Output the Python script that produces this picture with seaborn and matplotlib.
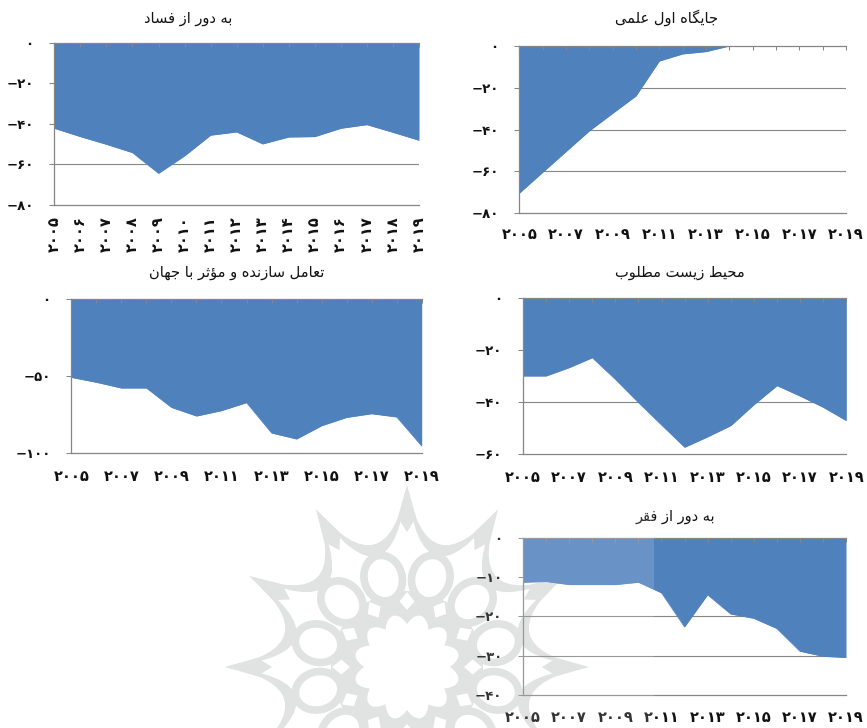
import unicodedata
import numpy as np
import pandas as pd
import matplotlib
matplotlib.use("Agg")
import matplotlib.pyplot as plt
from matplotlib.patches import Ellipse, PathPatch, Polygon, Circle, Rectangle
from matplotlib.path import Path
import seaborn as sns

years = list(range(2005, 2020))

title_fasad = "به دور از فساد"
title_elmi = "جایگاه اول علمی"
title_ta = "تعامل سازنده و مؤثر با جهان"
title_env = "محیط زیست مطلوب"
title_faqr = "به دور از فقر"

vals_fasad = [-42.2, -46.3, -50.1, -54.2, -64.4, -55.8, -45.6, -44.0, -49.9, -46.5, -46.3, -42.2, -40.4, -44.2, -48.1]
vals_elmi = [-70.4, -60.4, -50.5, -40.6, -32.2, -23.9, -7.2, -3.8, -2.7, 0, 0, 0, 0, 0, 0]
vals_ta = [-51.1, -54.3, -58.0, -58.0, -70.6, -76.2, -72.7, -67.5, -87.2, -91.1, -82.5, -77.1, -74.7, -76.8, -95.7]
vals_env = [-30.0, -30.0, -26.8, -23.0, -31.3, -40.2, -48.8, -57.3, -53.3, -49.0, -41.0, -33.7, -37.7, -42.0, -47.1]
vals_faqr = [-11.3, -11.1, -11.9, -11.9, -11.9, -11.3, -14.0, -22.7, -14.5, -19.4, -20.5, -23.1, -28.9, -30.2, -30.5]

ticks_fasad = [0, -20, -40, -60, -80]
ticks_elmi = [0, -20, -40, -60, -80]
ticks_ta = [0, -50, -100]
ticks_env = [0, -20, -40, -60]
ticks_faqr = [0, -10, -20, -30, -40]

BLUE = "#4F81BD"
GREY = "#868686"
WM = "#DCDDDD"
INK = "#111111"
W, H = 867, 728

# Contextual Arabic shaping (matplotlib draws glyphs without joining them)
FORMS = {}
for cp in list(range(0xFB50, 0xFE00)) + list(range(0xFE70, 0xFEFD)):
    d = unicodedata.decomposition(chr(cp)).split()
    if len(d) == 2 and d[0] in ("<isolated>", "<final>", "<initial>", "<medial>"):
        FORMS.setdefault(chr(int(d[1], 16)), {}).setdefault(d[0].strip("<>"), chr(cp))
RIGHT_ONLY = set("اآأؤدذرزژو")


def shape(s):
    out = []
    for i, c in enumerate(s):
        if c not in FORMS:
            out.append(c)
            continue
        prev = s[i - 1] if i else " "
        nxt = s[i + 1] if i + 1 < len(s) else " "
        jp = prev in FORMS and prev not in RIGHT_ONLY
        jn = nxt in FORMS and c not in RIGHT_ONLY
        form = "medial" if jp and jn else "final" if jp else "initial" if jn else "isolated"
        out.append(FORMS[c].get(form, c))
    return "".join(out[::-1])


FA = str.maketrans("0123456789", "۰۱۲۳۴۵۶۷۸۹")


def fa(n):
    return ("−" if n < 0 else "") + str(abs(n)).translate(FA)


sns.set_theme(style="white")
plt.rcParams["font.family"] = ["DejaVu Sans"]
fig = plt.figure(figsize=(W / 100, H / 100), dpi=100, facecolor="white")


def px_axes(l, t, r, b, **kw):
    return fig.add_axes([l / W, 1 - b / H, (r - l) / W, (b - t) / H], **kw)


# Watermark rosette, in pixel space behind the charts
bg = px_axes(0, 0, W, H, zorder=-1)
bg.set_xlim(0, W)
bg.set_ylim(H, 0)
bg.axis("off")
cx, cy = 407, 667


def polar(r, deg):
    a = np.radians(deg)
    return (cx + r * np.sin(a), cy - r * np.cos(a))


bg.add_patch(Circle((cx, cy), 76, fc=WM, ec="none"))
for k in range(12):
    a0 = 30 * k
    a1 = a0 + 30
    m = a0 + 15
    p0, p1 = polar(182, a0), polar(182, a1)
    co, ci = polar(78, m), polar(54, m)
    verts = [p0, co, p1, ci, p0]
    codes = [Path.MOVETO, Path.CURVE3, Path.CURVE3, Path.CURVE3, Path.CURVE3]
    bg.add_patch(PathPatch(Path(verts, codes), fc=WM, ec="none"))
    # solid tip and the rib running down to the lobes
    bg.add_patch(Polygon([polar(150, a0 - 3.5), polar(182, a0), polar(150, a0 + 3.5), polar(135, a0)], fc=WM, ec="none"))
for k in range(12):
    a0 = 30 * k
    m = a0 + 15
    bg.add_patch(Ellipse(polar(92, m), 38, 46, angle=m, fc="white", ec=WM, lw=5.5))
    bg.add_patch(Polygon([polar(75, a0), polar(66, a0 + 6.5), polar(57, a0), polar(66, a0 - 6.5)], fc="white", ec="none"))
th = np.radians(np.arange(0, 360, 1.0))
rr = 43 + 10 * np.abs(np.cos(6 * (th - np.radians(15))))
bg.add_patch(Polygon(np.c_[cx + rr * np.sin(th), cy - rr * np.cos(th)], fc="white", ec="none"))

panels = [
    (title_fasad, vals_fasad, ticks_fasad, (54.3, 42.7, 419, 205), (188, 18), 1, 90, 8),
    (title_elmi, vals_elmi, ticks_elmi, (519.3, 46, 846, 213.3), (667, 18), 2, 0, 10),
    (title_ta, vals_ta, ticks_ta, (71.3, 298.7, 421.7, 452.7), (237, 272), 2, 0, 12),
    (title_env, vals_env, ticks_env, (523, 297.7, 846.3, 454.3), (680, 272), 2, 0, 11),
    (title_faqr, vals_faqr, ticks_faqr, (523, 538, 846, 694.7), (675, 516), 2, 0, 11),
]

for title, vals, yt, box, tpos, step, rot, xpad in panels:
    ax = px_axes(*box)
    ax.patch.set_visible(False)
    df = pd.DataFrame({"year": years, "value": vals})
    for v in yt[1:-1]:
        ax.axhline(v, color=GREY, lw=0.8, zorder=1)
    ax.fill_between(df["year"], df["value"], 0, color=BLUE, lw=0, zorder=2)
    sns.lineplot(data=df, x="year", y="value", ax=ax, color=BLUE, lw=0.5, zorder=2.2)
    ax.set_xlim(years[0], years[-1])
    ax.set_ylim(yt[-1], 0)
    ax.set_xlabel("")
    ax.set_ylabel("")
    ax.set_xticks(years)
    ax.set_xticklabels([fa(y) if (y - years[0]) % step == 0 else "" for y in years],
                       rotation=rot, fontweight="bold", fontsize=10.5, color=INK, va="top", ha="center")
    ax.set_yticks(yt)
    ax.set_yticklabels([fa(v) for v in yt], fontsize=9.5, fontweight="bold", color=INK)
    ax.tick_params(axis="x", which="both", top=True, bottom=False, labeltop=False, labelbottom=True,
                   direction="in", length=3.2, width=0.75, color=GREY, pad=xpad)
    ax.tick_params(axis="y", which="both", left=True, direction="out", length=3.8, width=0.75, color=GREY, pad=11)
    ax.grid(False)
    ax.set_axisbelow(False)
    for sp in ("top", "left", "bottom"):
        ax.spines[sp].set_color(GREY)
        ax.spines[sp].set_linewidth(0.9)
        ax.spines[sp].set_zorder(4)
    ax.spines["right"].set_visible(False)
    fig.text(tpos[0] / W, 1 - tpos[1] / H, shape(title), ha="center", va="center", fontsize=10.5, color=INK)

# Translucent box of the watermark image laid over the last panel
fig.add_artist(Rectangle((215, 485), 654 - 215, H - 485, transform=bg.transData, fc="white", ec="none", alpha=0.15, zorder=10))

fig.savefig("out.png", dpi=100)
